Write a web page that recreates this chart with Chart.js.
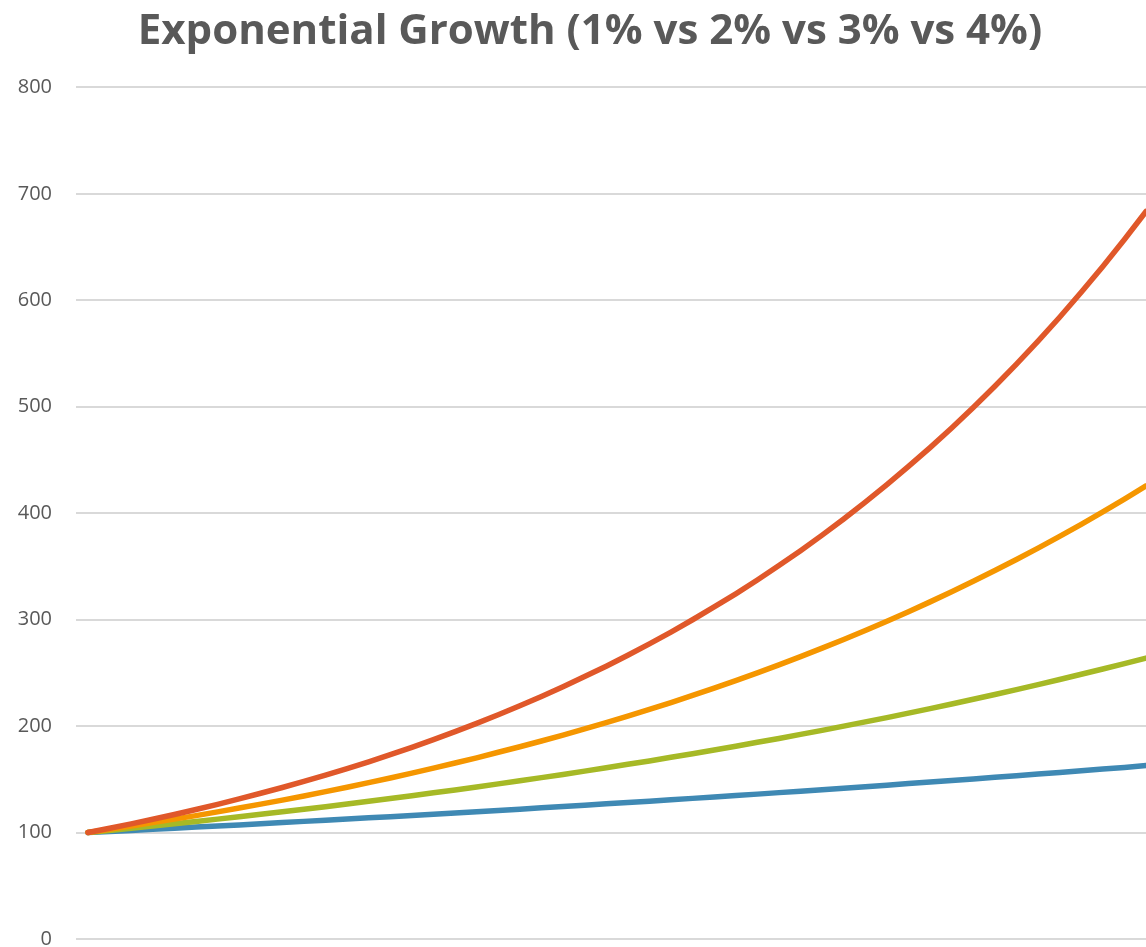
<!DOCTYPE html>
<html>
<head>
<meta charset="utf-8">
<script src="https://cdn.jsdelivr.net/npm/chart.js@4/dist/chart.umd.min.js"></script>
<style>
  html, body { margin: 0; padding: 0; background: #fff; overflow: hidden; }
  #wrap { width: 1200px; height: 975px; }
</style>
</head>
<body>
<div id="wrap"><canvas id="chart"></canvas></div>
<script>
// ---------- data ----------
const periods = Array.from({ length: 50 }, (_, i) => i);
const seriesNames = ["1%", "2%", "3%", "4%"];

const growth1 = [
  100.0, 101.0, 102.0, 103.0, 104.1, 105.1, 106.2, 107.2, 108.3, 109.4,
  110.5, 111.6, 112.7, 113.8, 114.9, 116.1, 117.3, 118.4, 119.6, 120.8,
  122.0, 123.2, 124.5, 125.7, 127.0, 128.2, 129.5, 130.8, 132.1, 133.5,
  134.8, 136.1, 137.5, 138.9, 140.3, 141.7, 143.1, 144.5, 146.0, 147.4,
  148.9, 150.4, 151.9, 153.4, 154.9, 156.5, 158.1, 159.6, 161.2, 162.9,
];
const growth2 = [
  100.0, 102.0, 104.0, 106.1, 108.2, 110.4, 112.6, 114.9, 117.2, 119.5,
  121.9, 124.3, 126.8, 129.4, 131.9, 134.6, 137.3, 140.0, 142.8, 145.7,
  148.6, 151.6, 154.6, 157.7, 160.8, 164.1, 167.3, 170.7, 174.1, 177.6,
  181.1, 184.8, 188.4, 192.2, 196.0, 200.0, 204.0, 208.0, 212.2, 216.4,
  220.8, 225.2, 229.7, 234.3, 239.0, 243.8, 248.7, 253.6, 258.7, 263.9,
];
const growth3 = [
  100.0, 103.0, 106.1, 109.3, 112.6, 115.9, 119.4, 123.0, 126.7, 130.5,
  134.4, 138.4, 142.6, 146.9, 151.3, 155.8, 160.5, 165.3, 170.2, 175.4,
  180.6, 186.0, 191.6, 197.4, 203.3, 209.4, 215.7, 222.1, 228.8, 235.7,
  242.7, 250.0, 257.5, 265.2, 273.2, 281.4, 289.8, 298.5, 307.5, 316.7,
  326.2, 336.0, 346.1, 356.5, 367.2, 378.2, 389.5, 401.2, 413.2, 425.6,
];
const growth4 = [
  100.0, 104.0, 108.2, 112.5, 117.0, 121.7, 126.5, 131.6, 136.9, 142.3,
  148.0, 153.9, 160.1, 166.5, 173.2, 180.1, 187.3, 194.8, 202.6, 210.7,
  219.1, 227.9, 237.0, 246.5, 256.3, 266.6, 277.2, 288.3, 299.9, 311.9,
  324.3, 337.3, 350.8, 364.8, 379.4, 394.6, 410.4, 426.8, 443.9, 461.6,
  480.1, 499.3, 519.3, 540.1, 561.7, 584.1, 607.5, 631.8, 657.1, 683.4,
];
const yTicks = [0, 100, 200, 300, 400, 500, 600, 700, 800];

const colors = ["#3f89b4", "#a6b926", "#f59600", "#e0582a"];

// ---------- helpers ----------
const toPoints = (vals) => vals.map((y, i) => ({ x: periods[i], y }));

const makeSet = (label, vals, color, order) => ({
  label,
  data: toPoints(vals),
  borderColor: color,
  backgroundColor: color,
  borderWidth: 5.5,
  borderCapStyle: "round",
  borderJoinStyle: "round",
  pointRadius: 0,
  tension: 0,
  order,
});

// ---------- chart ----------
const ctx = document.getElementById("chart").getContext("2d");
new Chart(ctx, {
  type: "line",
  data: {
    datasets: [
      makeSet(seriesNames[0], growth1, colors[0], 4),
      makeSet(seriesNames[1], growth2, colors[1], 3),
      makeSet(seriesNames[2], growth3, colors[2], 2),
      makeSet(seriesNames[3], growth4, colors[3], 1),
    ],
  },
  options: {
    responsive: true,
    maintainAspectRatio: false,
    animation: false,
    layout: { padding: { left: 0, right: 20, top: 0, bottom: 8 } },
    plugins: {
      legend: { display: false },
      tooltip: { enabled: false },
      title: {
        display: true,
        text: "Exponential Growth (1% vs 2% vs 3% vs 4%)",
        color: "#595959",
        font: { family: "'Open Sans', sans-serif", size: 42, weight: "bold" },
        padding: { top: 7, bottom: 30 },
      },
    },
    scales: {
      x: {
        type: "linear",
        display: false,
        min: -0.556,
        max: 50.575,
      },
      y: {
        min: 0,
        max: 800,
        afterFit: (scale) => { scale.width = 76; },
        afterBuildTicks: (scale) => {
          scale.ticks = yTicks.map((v) => ({ value: v }));
        },
        border: { display: false },
        grid: { color: "#d9d9d9", lineWidth: 2, drawTicks: false },
        ticks: {
          color: "#595959",
          padding: 24,
          font: { family: "'Open Sans', sans-serif", size: 20 },
        },
      },
    },
  },
});
</script>
</body>
</html>
